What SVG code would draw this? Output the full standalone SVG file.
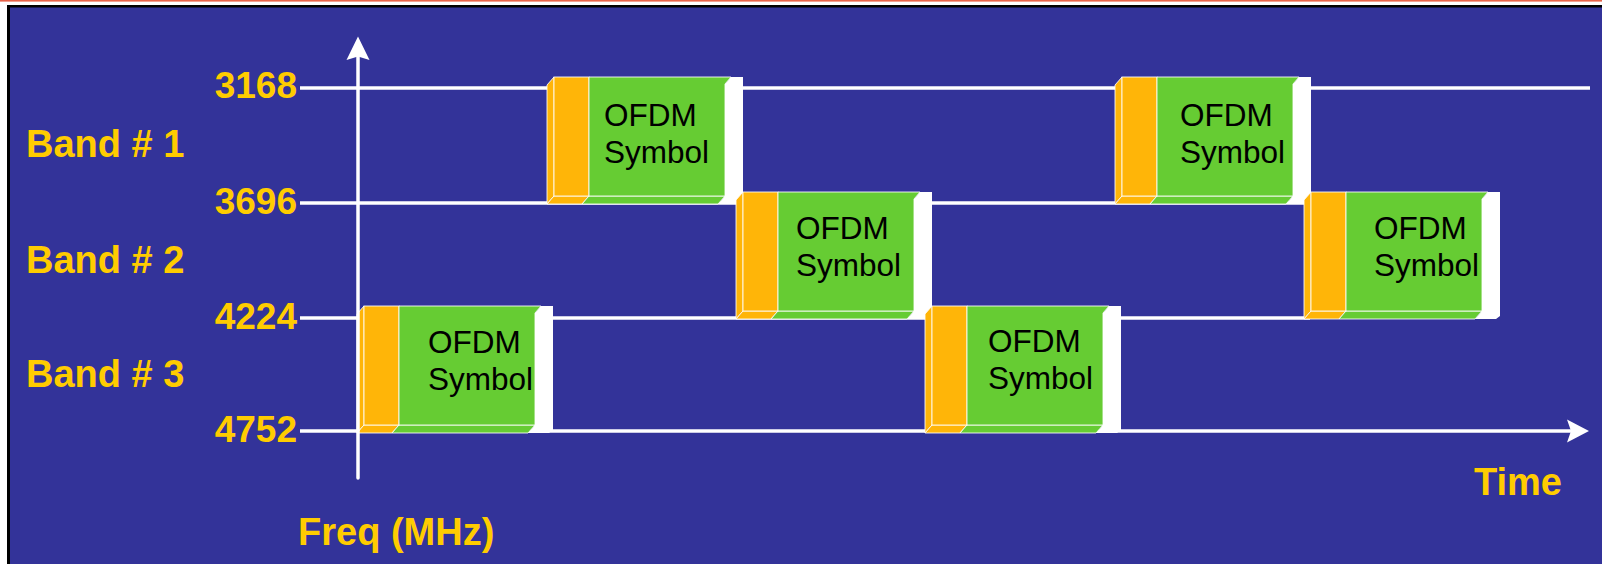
<svg xmlns="http://www.w3.org/2000/svg" width="1602" height="564" viewBox="0 0 1602 564">
<style>
.lbl{font-family:"Liberation Sans",Arial,sans-serif;font-weight:bold;fill:#FFCC00}
.num{font-size:37px;text-anchor:end}
.band{font-size:38px}
.sym{font-family:"Liberation Sans",Arial,sans-serif;font-size:31.5px;fill:#000}
.grid{stroke:#fff;stroke-width:3.5;fill:none}
.or{fill:#FFB508;stroke:#fff;stroke-width:1;stroke-opacity:0.85}
.gr{fill:#66CC33;stroke:#fff;stroke-width:1;stroke-opacity:0.85}
.wh{fill:#fff}
</style>
<defs>
<g id="blk">
<path class="wh" d="M184,0 L196,0 L196,124 L192,127 L171,127 L178,119 L178,7 Z"/>
<path class="or" d="M0,8 L7,0 L7,119 L0,127 Z"/>
<path class="or" d="M0,127 L7,119 L42,119 L35,127 Z"/>
<path class="gr" d="M35,127 L42,119 L178,119 L171,127 Z"/>
<rect class="or" x="7" y="0" width="35" height="119"/>
<path class="gr" d="M42,0 L184,0 L178,7 L178,119 L42,119 Z"/>
</g>
</defs>
<rect x="0" y="0" width="1602" height="564" fill="#fff"/>
<rect x="0" y="0" width="1602" height="1.6" fill="#E8634A"/>
<rect x="7" y="5" width="1595" height="559" fill="#000"/>
<rect x="10" y="7.5" width="1592" height="556.5" fill="#333399"/>
<g id="connectors">
<line class="grid" x1="300" y1="88" x2="1590" y2="88"/>
<line class="grid" x1="300" y1="203" x2="1310" y2="203"/>
<line class="grid" x1="300" y1="318" x2="1310" y2="318"/>
<line class="grid" x1="300" y1="431" x2="1572" y2="431"/>
<path fill="#fff" d="M1589,431 L1567,419.5 L1571,431 L1567,442.5 Z"/>
</g>
<g id="block1"><use href="#blk" x="357" y="306"/><text class="sym" x="428" y="353">OFDM</text><text class="sym" x="428" y="390">Symbol</text></g>
<g id="block2"><use href="#blk" x="547" y="77"/><text class="sym" x="604" y="126">OFDM</text><text class="sym" x="604" y="163">Symbol</text></g>
<g id="block3"><use href="#blk" x="736" y="192"/><text class="sym" x="796" y="239">OFDM</text><text class="sym" x="796" y="276">Symbol</text></g>
<g id="block4"><use href="#blk" x="925" y="306"/><text class="sym" x="988" y="352">OFDM</text><text class="sym" x="988" y="389">Symbol</text></g>
<g id="block5"><use href="#blk" x="1115" y="77"/><text class="sym" x="1180" y="126">OFDM</text><text class="sym" x="1180" y="163">Symbol</text></g>
<g id="block6"><use href="#blk" x="1304" y="192"/><text class="sym" x="1374" y="239">OFDM</text><text class="sym" x="1374" y="276">Symbol</text></g>
<g id="freq-axis">
<line x1="358" y1="478" x2="358" y2="56" stroke="#fff" stroke-width="3.5" stroke-linecap="round"/>
<path fill="#fff" d="M358,36.5 L346.5,60 L358,56.5 L369.5,60 Z"/>
</g>
<g id="labels">
<text class="lbl num" x="297" y="98">3168</text>
<text class="lbl num" x="297" y="214">3696</text>
<text class="lbl num" x="297" y="329">4224</text>
<text class="lbl num" x="297" y="442">4752</text>
<text class="lbl band" x="26" y="157">Band # 1</text>
<text class="lbl band" x="26" y="273">Band # 2</text>
<text class="lbl band" x="26" y="387">Band # 3</text>
<text class="lbl band" x="1474" y="495">Time</text>
<text class="lbl band" x="298" y="545">Freq (MHz)</text>
</g>
</svg>
